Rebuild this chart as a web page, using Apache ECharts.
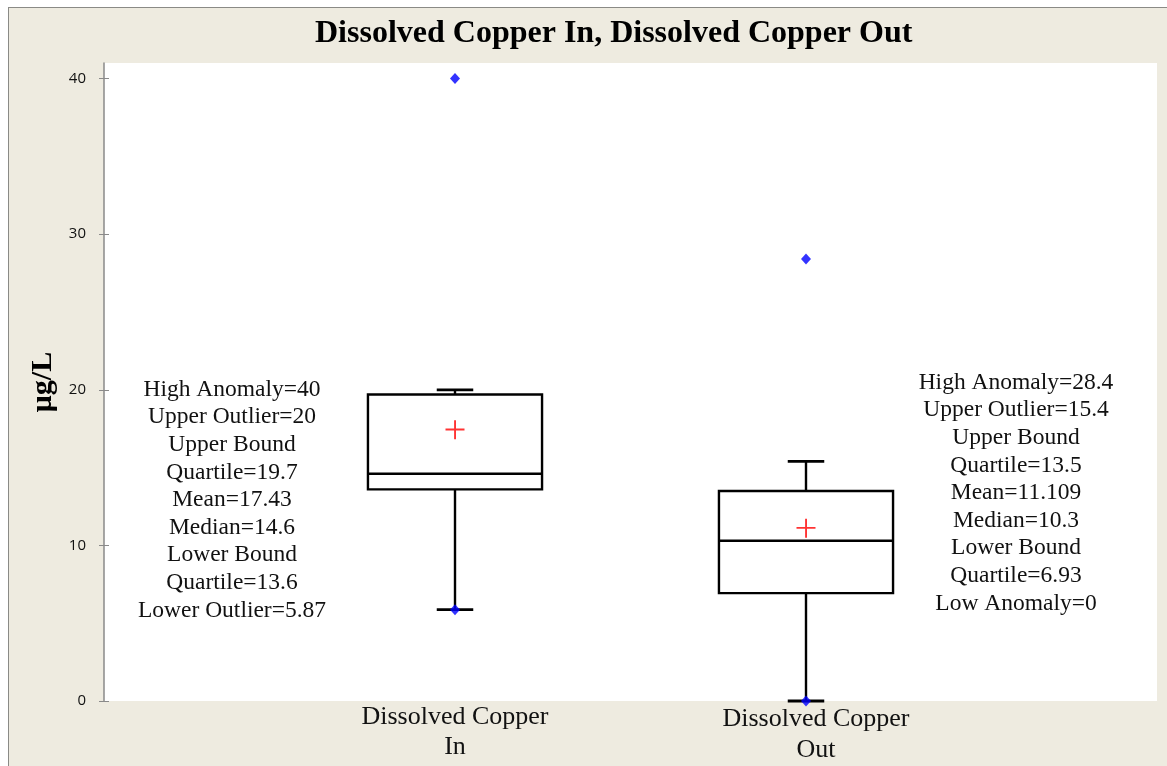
<!DOCTYPE html>
<html>
<head>
<meta charset="utf-8">
<script src="https://cdn.jsdelivr.net/npm/echarts@6/dist/echarts.min.js"></script>
<style>
  html, body { margin: 0; padding: 0; background: #fff; }
  #wrap { position: relative; width: 1167px; height: 766px; overflow: hidden; }
  #frame { position: absolute; left: 8px; top: 7px; right: -4px; bottom: -4px;
           background: #eeebe0; border-left: 1.5px solid #8a8a86; border-top: 1.5px solid #8a8a86; }
  #chart { position: absolute; left: 0; top: 0; width: 1167px; height: 766px; }
</style>
</head>
<body>
<div id="wrap">
  <div id="frame"></div>
  <div id="chart"></div>
</div>
<script>
// categories and box statistics (µg/L)
var categories = ['Dissolved Copper\nIn', 'Dissolved Copper\nOut'];
var lowWhisker = [5.87, 0];
var lowerQuartile = [13.6, 6.93];
var medians = [14.6, 10.3];
var upperQuartile = [19.7, 13.5];
var highWhisker = [20, 15.4];
var means = [17.43, 11.109];
// plotted extreme points [categoryIndex, value]
var extremePoints = [[0, 40], [0, 5.87], [1, 28.4], [1, 0]];
var yTicks = [0, 10, 20, 30, 40];

var notesIn = ['High Anomaly=40', 'Upper Outlier=20', 'Upper Bound', 'Quartile=19.7',
  'Mean=17.43', 'Median=14.6', 'Lower Bound', 'Quartile=13.6', 'Lower Outlier=5.87'];
var notesOut = ['High Anomaly=28.4', 'Upper Outlier=15.4', 'Upper Bound', 'Quartile=13.5',
  'Mean=11.109', 'Median=10.3', 'Lower Bound', 'Quartile=6.93', 'Low Anomaly=0'];

var serif = '"Liberation Serif", "Times New Roman", serif';

// category axis padded so the boxes sit at 1/3 and 2/3 of the plot
var axisCats = [''].concat(categories, ['']);

var boxData = categories.map(function (c, i) {
  return [i + 1, lowWhisker[i], lowerQuartile[i], medians[i], upperQuartile[i], highWhisker[i]];
});
var meanData = means.map(function (m, i) { return [i + 1, m]; });
var pointData = extremePoints.map(function (p) { return [p[0] + 1, p[1]]; });

function renderBox(params, api) {
  var x = api.value(0);
  var pLow = api.coord([x, api.value(1)]);
  var pQ1 = api.coord([x, api.value(2)]);
  var pMed = api.coord([x, api.value(3)]);
  var pQ3 = api.coord([x, api.value(4)]);
  var pHigh = api.coord([x, api.value(5)]);
  var band = api.size([1, 0])[0];
  var hw = band * 0.248;
  var cw = band * 0.052;
  var cx = pQ1[0];
  var st = { stroke: '#000', lineWidth: 2.4, fill: null };
  var cap = { stroke: '#000', lineWidth: 2.8 };
  return {
    type: 'group',
    children: [
      { type: 'line', shape: { x1: cx, y1: pLow[1], x2: cx, y2: pQ1[1] }, style: st },
      { type: 'line', shape: { x1: cx, y1: pQ3[1], x2: cx, y2: pHigh[1] }, style: st },
      { type: 'line', shape: { x1: cx - cw, y1: pLow[1], x2: cx + cw, y2: pLow[1] }, style: cap },
      { type: 'line', shape: { x1: cx - cw, y1: pHigh[1], x2: cx + cw, y2: pHigh[1] }, style: cap },
      { type: 'rect', shape: { x: cx - hw, y: pQ3[1], width: hw * 2, height: pQ1[1] - pQ3[1] }, style: { stroke: '#000', lineWidth: 2.4, fill: '#fff' } },
      { type: 'line', shape: { x1: cx - hw, y1: pMed[1], x2: cx + hw, y2: pMed[1] }, style: st }
    ]
  };
}

function noteBlock(lines, cx, cy) {
  return {
    type: 'text',
    x: cx, y: cy,
    style: {
      text: lines.join('\n'),
      font: '23.5px ' + serif,
      fill: '#111',
      align: 'center',
      verticalAlign: 'middle',
      lineHeight: 27.6
    },
    z: 10
  };
}

var chart = echarts.init(document.getElementById('chart'));
chart.setOption({
  backgroundColor: 'transparent',
  animation: false,
  title: {
    text: 'Dissolved Copper In, Dissolved Copper Out',
    left: 310, top: 13,
    textStyle: { fontFamily: serif, fontWeight: 'bold', fontSize: 32, color: '#000' }
  },
  grid: { left: 104, right: 10, top: 63, bottom: 65, show: true, backgroundColor: '#fff', borderWidth: 0 },
  xAxis: {
    type: 'category',
    data: axisCats,
    boundaryGap: false,
    axisLine: { show: false },
    axisTick: { show: false },
    splitLine: { show: false },
    axisLabel: {
      interval: 0,
      margin: 1,
      fontFamily: serif,
      fontSize: 26,
      lineHeight: 30,
      color: '#111',
      formatter: function (v, i) {
        if (i === 2) return '{o|' + v.replace('\n', '}\n{o|') + '}';
        return v;
      },
      rich: { o: { fontFamily: serif, fontSize: 26, lineHeight: 31, color: '#111', padding: [3, 0, 0, 20] } }
    }
  },
  yAxis: [{
    type: 'value',
    min: 0, max: 41,
    name: 'μg/L',
    nameLocation: 'middle',
    nameGap: 40,
    nameTextStyle: { fontFamily: serif, fontWeight: 'bold', fontSize: 30, color: '#000' },
    axisLine: { show: true, lineStyle: { color: '#8a8a8a', width: 1.5 } },
    axisTick: { show: true, length: 5, customValues: yTicks, lineStyle: { color: '#8a8a8a' } },
    axisLabel: { customValues: yTicks, margin: 18, fontFamily: '"Open Sans", "Liberation Sans", sans-serif', fontSize: 15, color: '#111' },
    splitLine: { show: false }
  }, {
    type: 'value',
    min: 0, max: 41,
    position: 'left',
    axisLine: { show: false },
    axisTick: { show: true, inside: true, length: 5, customValues: yTicks, lineStyle: { color: '#8a8a8a' } },
    axisLabel: { show: false },
    splitLine: { show: false }
  }],
  graphic: [noteBlock(notesIn, 232, 500), noteBlock(notesOut, 1016, 493)],
  series: [{
    type: 'custom',
    renderItem: renderBox,
    data: boxData,
    encode: { x: 0, y: [1, 2, 3, 4, 5] },
    z: 2
  }, {
    type: 'scatter',
    data: meanData,
    symbol: 'path://M0,8.3H19V10.2H0Z M8.6,0H10.5V19H8.6Z',
    symbolSize: [19, 19],
    itemStyle: { color: '#ff0000' },
    z: 3
  }, {
    type: 'scatter',
    data: pointData,
    symbol: 'diamond',
    symbolSize: [10, 11],
    itemStyle: { color: '#0000ff' },
    z: 4
  }]
});
</script>
</body>
</html>
